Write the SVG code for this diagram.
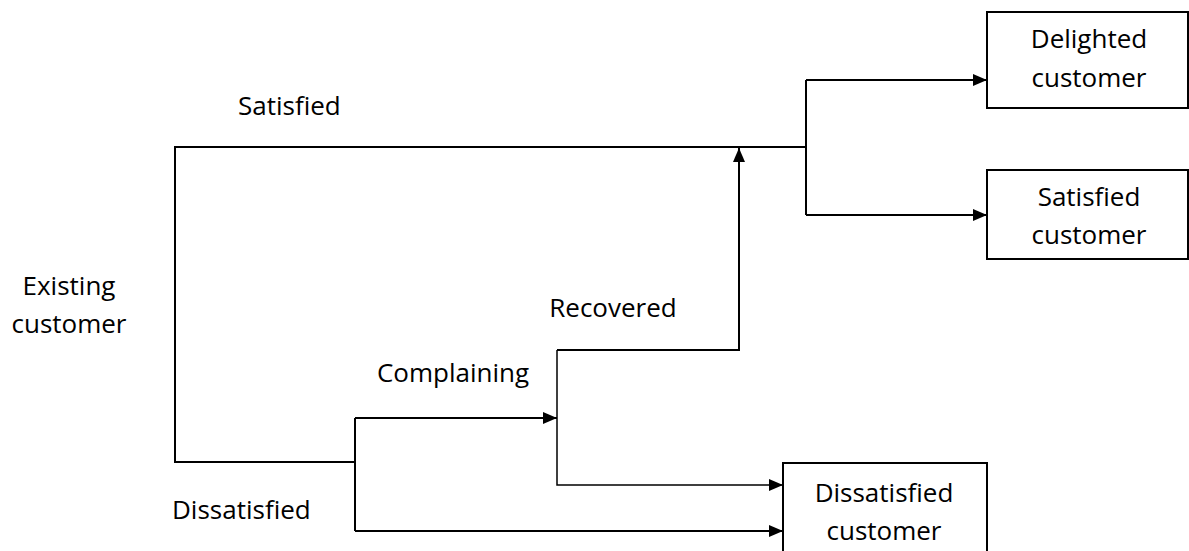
<svg xmlns="http://www.w3.org/2000/svg" width="1189" height="551" viewBox="0 0 1189 551">
<style>
.t{font-family:"Open Sans","DejaVu Sans",sans-serif;font-size:26px;fill:#000}
.c{text-anchor:middle}
.box{fill:#fff;stroke:#000;stroke-width:2}
.ln{fill:none;stroke:#000;stroke-width:2}
</style>
<defs>
<marker id="ah" markerUnits="userSpaceOnUse" markerWidth="14" markerHeight="12" refX="14" refY="6" orient="auto">
<path d="M0,0 L14,6 L0,12 Z" fill="#000"/>
</marker>
</defs>
<g id="connectors">
<path class="ln" d="M355,462 L175,462 L175,147 L806,147"/>
<path class="ln" d="M806,80 L806,215"/>
<path class="ln" d="M806,80 L987,80" marker-end="url(#ah)"/>
<path class="ln" d="M806,215 L987,215" marker-end="url(#ah)"/>
<path class="ln" d="M355,418 L355,531"/>
<path class="ln" d="M355,418 L557,418" marker-end="url(#ah)"/>
<path class="ln" d="M355,531 L783,531" marker-end="url(#ah)"/>
<path class="ln" d="M557,350 L557,485 L783,485" marker-end="url(#ah)" style="stroke-width:1.5"/>
<path class="ln" d="M557,350 L739,350 L739,148" marker-end="url(#ah)"/>
</g>
<g id="label-satisfied"><text class="t" x="238" y="115">Satisfied</text></g>
<g id="label-existing"><text class="t c" x="69" y="295">Existing</text><text class="t c" x="69" y="333">customer</text></g>
<g id="label-recovered"><text class="t c" x="613" y="317">Recovered</text></g>
<g id="label-complaining"><text class="t c" x="453" y="382">Complaining</text></g>
<g id="label-dissatisfied"><text class="t" x="172" y="519">Dissatisfied</text></g>
<g id="delighted"><rect class="box" x="987" y="12" width="201" height="96"/><text class="t c" x="1089" y="48">Delighted</text><text class="t c" x="1089" y="87">customer</text></g>
<g id="satisfied"><rect class="box" x="987" y="170" width="201" height="89"/><text class="t c" x="1089" y="206">Satisfied</text><text class="t c" x="1089" y="244">customer</text></g>
<g id="dissatisfied"><rect class="box" x="783" y="463" width="204" height="100"/><text class="t c" x="884" y="502">Dissatisfied</text><text class="t c" x="884" y="540">customer</text></g>
</svg>
